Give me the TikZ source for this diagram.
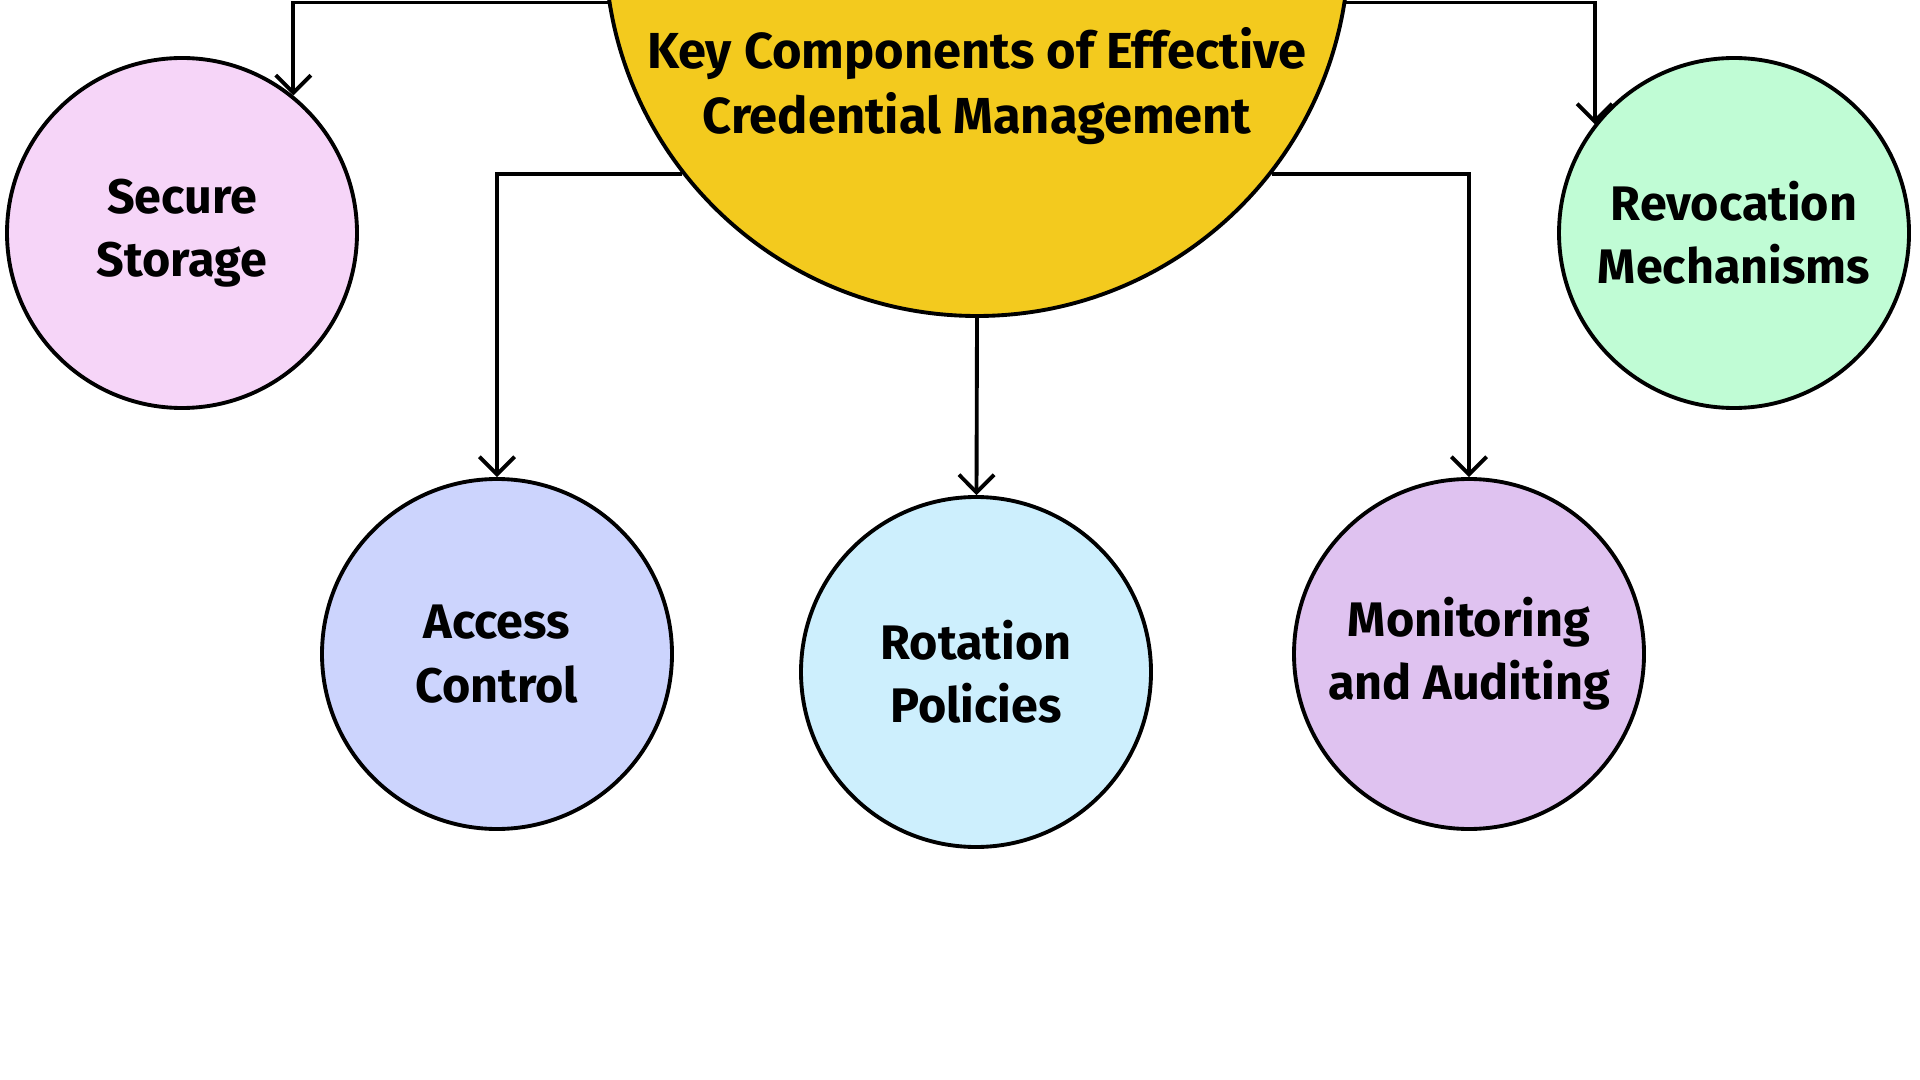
\documentclass[tikz,border=0pt]{standalone}
\usepackage{fontspec}
\setmainfont{Fira Sans}
\usetikzlibrary{arrows.meta}

\definecolor{keyyellow}{HTML}{F3CA1E}
\definecolor{storepink}{HTML}{F6D5F8}
\definecolor{accessblue}{HTML}{CCD4FD}
\definecolor{rotcyan}{HTML}{CDEFFD}
\definecolor{monpurple}{HTML}{DFC2F0}
\definecolor{revgreen}{HTML}{C0FCD5}

\begin{document}
\begin{tikzpicture}[
        topicbox/.style={circle, draw=black, line width=1.1pt, minimum size=3.5cm, inner sep=0pt, align=center, font=\fontsize{13.8}{18}\selectfont\bfseries},
        keybox/.style={circle, draw=black, line width=1.1pt, fill=keyyellow, minimum size=7.44cm, inner sep=0pt},
        keytext/.style={align=center, font=\fontsize{14.4}{18.7}\selectfont\bfseries},
        arr/.style={-{Straight Barb[length=5pt, width=10pt]}, line width=1.1pt, black},
    ]
        \useasboundingbox (0,0) rectangle (19.2,-10.8);
        \fill[white] (0,0) rectangle (19.2,-10.8);
        \clip (0,0) rectangle (19.2,-10.8);

        % Central topic (cut by the top edge)
        \node[keybox] (key) at (9.77,0.56) {};
        \node[keytext] (keylabel) at (9.77,-0.86) {Key Components of Effective\\Credential Management};

        % Components
        \node[topicbox, fill=storepink] (store) at (1.82,-2.33) {Secure\\Storage};
        \node[topicbox, fill=revgreen] (revoke) at (17.34,-2.33) {Revocation\\Mechanisms};
        \node[topicbox, fill=accessblue] (access) at (4.97,-6.54) {Access\\Control};
        \node[topicbox, fill=rotcyan] (rotate) at (9.76,-6.72) {Rotation\\Policies};
        \node[topicbox, fill=monpurple] (monitor) at (14.69,-6.54) {Monitoring\\and Auditing};

        % Arrows
        \draw[arr] (key.189.4) -| (store.51);
        \draw[arr] (key.351) -| (revoke.142);
        \draw[arr] (key.218) -| (access);
        \draw[arr] (key.south) -- (rotate);
        \draw[arr] (key.322) -| (monitor);
    \end{tikzpicture}
\end{document}
